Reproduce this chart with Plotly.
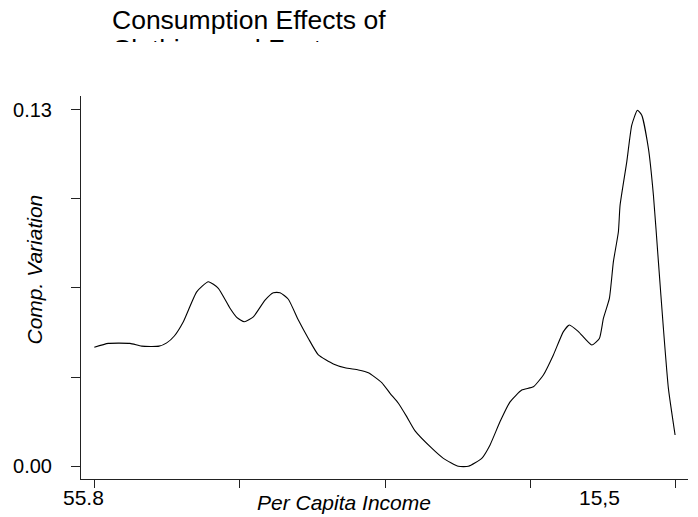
import plotly.graph_objects as go

W, H = 698, 517

# ---- data ----
income_pos = [0.0, 2.41, 6.14, 8.15, 11.13, 12.45, 13.76, 15.31, 17.61, 19.61,
              21.33, 23.34, 24.49, 25.80, 27.35, 29.36, 30.79, 31.94, 33.37, 35.09,
              36.81, 38.53, 41.11, 43.12, 45.41, 47.13, 49.43, 50.86, 52.29, 53.73,
              55.16, 58.03, 60.03, 62.61, 64.33, 66.63, 68.06, 69.78, 71.50, 73.51,
              75.51, 77.23, 78.95, 80.67, 81.70, 83.25, 85.55, 86.86, 87.55, 88.58,
              89.27, 90.13, 90.42, 91.57, 92.43, 93.40, 94.15, 95.29, 96.15, 97.01,
              97.87, 98.73, 99.88]
comp_var = [0.0434, 0.0448, 0.0448, 0.0438, 0.0438, 0.0450, 0.0475, 0.0527, 0.0636, 0.0673,
            0.0649, 0.0576, 0.0543, 0.0527, 0.0545, 0.0606, 0.0633, 0.0633, 0.0609, 0.0533,
            0.0466, 0.0406, 0.0373, 0.0359, 0.0351, 0.0341, 0.0305, 0.0266, 0.0230, 0.0181,
            0.0129, 0.0066, 0.0029, 0.0000, 0.0000, 0.0029, 0.0078, 0.0163, 0.0235, 0.0278,
            0.0290, 0.0333, 0.0406, 0.0491, 0.0515, 0.0491, 0.0442, 0.0466, 0.0539, 0.0612,
            0.0746, 0.0855, 0.0952, 0.1110, 0.1244, 0.1298, 0.1280, 0.1159, 0.0989, 0.0746,
            0.0503, 0.0284, 0.0114]

x_tick_vals = [0, 25, 50, 75, 100]
x_label_text = ["55.8", "15,5"]
x_label_pos = [-1.94, 86.9]
y_tick_vals = [0, 0.0325, 0.065, 0.0975, 0.13]
y_tick_text = ["0.00", "", "", "", "0.13"]

title_lines = ["Consumption Effects of", "Clothing and Footwear"]
x_title = "Per Capita Income"
y_title = "Comp. Variation"

FONT = "Liberation Sans, Arial, Helvetica, sans-serif"
INK = "#000000"
AXIS = "#222222"

fig = go.Figure()

fig.add_trace(go.Scatter(
    x=income_pos, y=comp_var, mode="lines",
    line=dict(color=INK, width=1.1, shape="spline", smoothing=0.5),
    hoverinfo="skip", showlegend=False,
))

# title as text in a small clipped subplot (second line is cut off in the reference)
fig.add_trace(go.Scatter(
    x=[112, 112], y=[22.5, 51.3], text=title_lines, mode="text",
    textposition="middle right",
    textfont=dict(family=FONT, size=26.5, color=INK),
    xaxis="x2", yaxis="y2", cliponaxis=True,
    hoverinfo="skip", showlegend=False,
))

fig.update_layout(
    width=W, height=H,
    margin=dict(l=0, r=0, t=0, b=0),
    paper_bgcolor="white", plot_bgcolor="white",
    font=dict(family=FONT, color=INK),
    hovermode=False,
    xaxis=dict(
        domain=[81 / W, 688 / W], range=[-2.29, 102.1],
        showline=True, linecolor=AXIS, linewidth=1,
        ticks="outside", ticklen=8, tickwidth=1, tickcolor=AXIS,
        tickvals=x_tick_vals, showticklabels=False,
        showgrid=False, zeroline=False, fixedrange=True,
    ),
    yaxis=dict(
        domain=[1 - 479.3 / H, 1 - 96 / H], range=[-0.00474, 0.13499],
        showline=True, linecolor=AXIS, linewidth=1,
        ticks="outside", ticklen=9, tickwidth=1, tickcolor=AXIS,
        tickvals=y_tick_vals, ticktext=y_tick_text,
        tickfont=dict(family=FONT, size=20, color=INK),
        ticklabelstandoff=15,
        showgrid=False, zeroline=False, fixedrange=True,
    ),
    xaxis2=dict(domain=[0, 1], range=[0, W], anchor="y2", visible=False, fixedrange=True),
    yaxis2=dict(domain=[1 - 42 / H, 1], range=[42, 0], anchor="x2", visible=False, fixedrange=True),
)

annotations = []
for txt, pos in zip(x_label_text, x_label_pos):
    annotations.append(dict(
        text=txt, x=pos, xref="x", y=1 - 497.7 / H, yref="paper",
        xanchor="center", yanchor="middle", showarrow=False,
        font=dict(family=FONT, size=21, color=INK),
    ))
annotations.append(dict(
    text="<i>" + x_title + "</i>", x=344 / W, xref="paper", y=1 - 502 / H, yref="paper",
    xanchor="center", yanchor="middle", showarrow=False,
    font=dict(family=FONT, size=21, color=INK),
))
annotations.append(dict(
    text="<i>" + y_title + "</i>", x=33.5 / W, xref="paper", y=1 - 270 / H, yref="paper",
    xanchor="center", yanchor="middle", showarrow=False, textangle=-90,
    font=dict(family=FONT, size=21, color=INK),
))
fig.update_layout(annotations=annotations)

# remove the browser's default 8px page margin so the figure sits at (0, 0)
fig.write_html(
    "out.html",
    config={"displayModeBar": False, "staticPlot": False},
    post_script="document.body.style.margin='0';",
)
